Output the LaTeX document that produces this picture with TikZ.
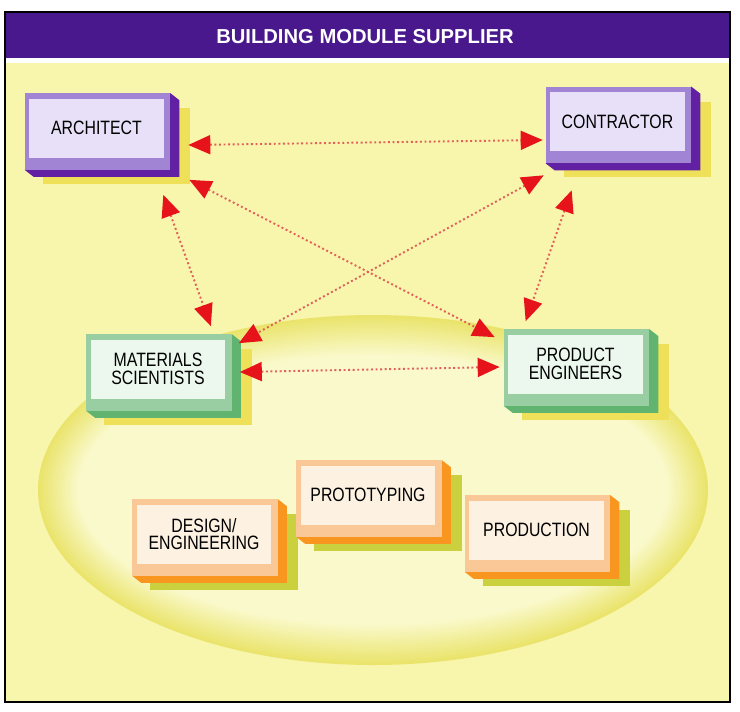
\documentclass[tikz,border=0pt]{standalone}
\usepackage{fontspec}
\setmainfont{Liberation Sans}
\newfontfamily\boxfont{Liberation Sans}[FakeStretch=0.82]
\usetikzlibrary{arrows.meta,backgrounds}

\definecolor{barpurple}{RGB}{72,24,140}
\definecolor{paper}{RGB}{248,245,172}
\definecolor{ringA}{RGB}{234,228,108}
\definecolor{ringD}{RGB}{251,250,208}
\definecolor{purpface}{RGB}{232,224,248}
\definecolor{purpband}{RGB}{162,132,212}
\definecolor{purpside}{RGB}{98,32,162}
\definecolor{greenface}{RGB}{236,248,238}
\definecolor{greenband}{RGB}{152,206,162}
\definecolor{greenside}{RGB}{96,180,112}
\definecolor{orangeface}{RGB}{253,241,226}
\definecolor{orangeband}{RGB}{250,200,150}
\definecolor{orangeside}{RGB}{248,150,32}
\definecolor{yelshade}{RGB}{238,224,88}
\definecolor{oliveshade}{RGB}{202,208,62}
\definecolor{headred}{RGB}{230,20,26}
\definecolor{dotred}{RGB}{226,96,88}

\begin{document}
\begin{tikzpicture}[x=0.02cm, y=-0.02cm,
  facebox/.style={rectangle, minimum width=2.7cm, minimum height=1.18cm, inner sep=0pt,
    align=center, font=\boxfont\fontsize{11}{10}\selectfont},
  archbox/.style={facebox, fill=purpface},
  teambox/.style={facebox, fill=greenface},
  taskbox/.style={facebox, fill=orangeface},
  link/.style={{Triangle[length=0.44cm,width=0.38cm,color=headred]}-{Triangle[length=0.44cm,width=0.38cm,color=headred]},
    draw=dotred, line width=1.1pt, dash pattern=on 1.1pt off 1.5pt}
]
  \useasboundingbox (0,0) rectangle (740,711);

  % outside parties
  \node[archbox] (arch) at (96.5,128) {ARCHITECT};
  \node[archbox] (cont) at (617.5,121.5) {CONTRACTOR};

  % supplier teams
  \node[teambox] (mat) at (158,369) {MATERIALS\\SCIENTISTS};
  \node[teambox] (prod) at (575.5,364) {PRODUCT\\ENGINEERS};

  % process steps
  \node[taskbox] (des) at (204,534) {DESIGN/\\ENGINEERING};
  \node[taskbox] (proto) at (368,495) {PROTOTYPING};
  \node[taskbox] (pro) at (536.5,530) {PRODUCTION};

  \begin{scope}[on background layer]
    \fill[white] (0,0) rectangle (740,711);
    \fill[paper] (5,12) rectangle (730,702);
    % soft ring round the supplier
    \foreach \i in {0,...,16} {
      \pgfmathsetmacro{\mix}{100-6*\i}
      \fill[ringA!\mix!ringD] (373,490) ellipse [x radius=335-2.5*\i, y radius=175-2.5*\i];
    }
    \fill[barpurple] (5,12) rectangle (730,58);
    \fill[white] (5,58) rectangle (730,63);
    \draw[line width=0.8pt] (5,12) rectangle (730,702);
    % shadow, side and rim of each box
    \foreach \n/\band/\side/\shade in {arch/purpband/purpside/yelshade, cont/purpband/purpside/yelshade,
        mat/greenband/greenside/yelshade, prod/greenband/greenside/yelshade,
        des/orangeband/orangeside/oliveshade, proto/orangeband/orangeside/oliveshade,
        pro/orangeband/orangeside/oliveshade} {
      \fill[\shade] ([shift={(14,10)}]\n.north west) rectangle ([shift={(26,26)}]\n.south east);
      \fill[\side] ([shift={(6,-5)}]\n.north east) -- ([shift={(15,2)}]\n.north east)
        -- ([shift={(15,19)}]\n.south east) -- ([shift={(5,19)}]\n.south west)
        -- ([shift={(-4,12)}]\n.south west) -- cycle;
      \fill[\band] ([shift={(-4,-5)}]\n.north west) rectangle ([shift={(6,12)}]\n.south east);
    }
  \end{scope}

  \node[font=\bfseries\fontsize{11.5}{12}\selectfont, text=white] (title) at (365,37) {BUILDING MODULE SUPPLIER};

  % two-way links
  \draw[link] ([shift={(24,17)}]arch.east) -- ([shift={(-7,18.5)}]cont.west);
  \draw[link] ([shift={(25,22)}]arch.south east) -- ([shift={(-13,3)}]prod.north west);
  \draw[link] ([shift={(-6,24)}]cont.south west) -- ([shift={(13,4)}]mat.north east);
  \draw[link] ([shift={(-1,37)}]arch.south east) -- ([shift={(-15,-13)}]mat.north east);
  \draw[link] ([shift={(22,39)}]cont.south west) -- ([shift={(18,-13)}]prod.north west);
  \draw[link] ([shift={(14,3)}]mat.east) -- ([shift={(-8,3)}]prod.west);
\end{tikzpicture}
\end{document}
